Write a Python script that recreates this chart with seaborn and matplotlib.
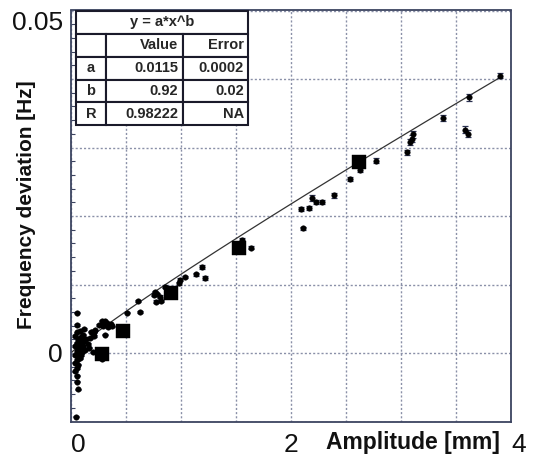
import numpy as np
import pandas as pd
import matplotlib
matplotlib.use('Agg')
import matplotlib.pyplot as plt
import seaborn as sns

# fit parameters shown in the inset table
fit_a = 0.0115
fit_b = 0.92
table_rows = [['', 'Value', 'Error'],
              ['a', '0.0115', '0.0002'],
              ['b', '0.92', '0.02'],
              ['R', '0.98222', 'NA']]

# small dots with error bars
dot_x = [3.90, 3.62, 3.38, 3.58, 3.61, 3.11, 3.10, 3.08, 3.05, 2.77,
         2.63, 2.54, 2.39, 2.19, 2.23, 2.28, 2.16, 2.09, 2.11, 1.55,
         1.64, 1.19, 1.22, 1.14, 1.04, 0.99, 0.98, 0.85, 0.76, 0.78,
         0.81, 0.75, 0.82, 0.77, 0.61, 0.63, 0.51,
         0.31, 0.28, 0.36, 0.37, 0.25, 0.33, 0.29, 0.34, 0.31, 0.22,
         0.20, 0.18, 0.21, 0.17, 0.14, 0.12, 0.15, 0.10, 0.20, 0.28,
         0.13, 0.16, 0.11, 0.19, 0.21,
         0.05, 0.05, 0.05, 0.04, 0.06, 0.05, 0.07, 0.04, 0.06, 0.05,
         0.07, 0.04, 0.06, 0.05, 0.08, 0.04, 0.06, 0.05, 0.04, 0.05,
         0.05, 0.06, 0.045, 0.09, 0.10, 0.09, 0.08, 0.09, 0.11, 0.08,
         0.12]
dot_y = [0.0405, 0.0373, 0.0343, 0.0326, 0.0320, 0.0319, 0.0313, 0.0308, 0.0293, 0.0281,
         0.0267, 0.0254, 0.0230, 0.0226, 0.0220, 0.0220, 0.0212, 0.0210, 0.0182, 0.0165,
         0.0154, 0.0126, 0.0110, 0.0115, 0.0111, 0.0107, 0.0102, 0.0097, 0.0089, 0.0086,
         0.0082, 0.0085, 0.0076, 0.0075, 0.0076, 0.0060, 0.0059,
         0.0046, 0.0047, 0.0042, 0.0039, 0.0041, 0.0044, 0.0040, 0.0038, 0.0027, 0.0033,
         0.0029, 0.0031, 0.0025, 0.0022, 0.0020, 0.0018, 0.0013, 0.0015, 0.0001, -0.0009,
         0.0005, 0.0008, 0.0010, 0.0031, 0.0030,
         0.0059, 0.0041, 0.0030, 0.0025, 0.0020, 0.0015, 0.0012, 0.0010, 0.0006, 0.0003,
         0.0000, -0.0003, -0.0006, -0.0010, -0.0008, -0.0014, -0.0017, -0.0022, -0.0027, -0.0033,
         -0.0042, -0.0053, -0.0093, 0.0008, 0.0002, -0.0003, 0.0017, 0.0024, 0.0027, 0.0032,
         0.0035]
dot_err = [0.0004, 0.0005, 0.0005, 0.0005, 0.0005, 0.0005, 0.0005, 0.0005, 0.0004, 0.0004,
           0.0003, 0.0003, 0.0004, 0.0004, 0.0003, 0.0003, 0.0003, 0.0003, 0.0002, 0.0003,
           0.0002, 0.0003, 0.0003, 0.0002, 0.0002, 0.0002, 0.0002, 0.0002, 0.0002, 0.0002,
           0.0002, 0.0002, 0.0002, 0.0002, 0.0001, 0.0001, 0.0001] + [0.0001] * 56

# large square markers
sq_x = [0.28, 0.47, 0.91, 1.53, 2.62]
sq_y = [-0.0001, 0.0032, 0.0087, 0.0154, 0.0279]

dots = pd.DataFrame({'x': dot_x, 'y': dot_y, 'err': dot_err})
squares = pd.DataFrame({'x': sq_x, 'y': sq_y})
fit_x = np.linspace(0.005, 3.9, 200)
fit = pd.DataFrame({'x': fit_x, 'y': fit_a * fit_x ** fit_b})

sns.set_theme(style='white')
plt.rcParams['font.family'] = ['Liberation Sans', 'DejaVu Sans']

fig = plt.figure(figsize=(5.53, 4.59), dpi=100)
ax = fig.add_axes([71 / 553, 1 - 421.5 / 459, 440 / 553, 411 / 459])

frame_col = '#3c4460'
grid_col = '#8a90a8'

ax.set_xlim(0, 4)
ax.set_ylim(-0.01, 0.05)
xt = np.arange(0, 4.01, 0.5)
yt = np.arange(-0.01, 0.0501, 0.01)
ax.set_xticks(xt)
ax.set_xticklabels(['0' if abs(v) < 1e-9 else ('2' if abs(v - 2) < 1e-9 else ('4' if abs(v - 4) < 1e-9 else '')) for v in xt])
ax.set_yticks(yt)
ax.set_yticklabels(['0' if abs(v) < 1e-9 else ('0.05' if abs(v - 0.05) < 1e-9 else '') for v in yt])
ax.set_yticks(np.arange(-0.01, 0.05, 0.002), minor=True)
ax.tick_params(axis='both', which='major', length=0, labelsize=19, colors='#111111')
ax.tick_params(axis='x', which='major', pad=8)
ax.tick_params(axis='y', which='major', pad=6)
ax.tick_params(axis='y', which='minor', left=True, direction='in', length=3, width=0.8, color=frame_col)
for lbl in ax.get_yticklabels():
    if lbl.get_text() == '0.05':
        lbl.set_verticalalignment('top')
for lbl in ax.get_xticklabels():
    if lbl.get_text() in ('0', '4'):
        lbl.set_horizontalalignment('left')
ax.grid(True, which='major', color=grid_col, linestyle=(0, (1.5, 1.5)), linewidth=1.0)
ax.set_axisbelow(True)
for s in ax.spines.values():
    s.set_color(frame_col)
    s.set_linewidth(1.3)

sns.lineplot(data=fit, x='x', y='y', ax=ax, color='#333333', linewidth=0.9, legend=False)
ax.errorbar(dots['x'], dots['y'], yerr=dots['err'], fmt='none', ecolor='#2a3050',
            elinewidth=0.8, capsize=2.5, capthick=0.9, zorder=3)
sns.scatterplot(data=dots, x='x', y='y', ax=ax, color='black', s=16, marker='o',
                edgecolor='black', linewidth=0.3, zorder=4, legend=False)
sns.scatterplot(data=squares, x='x', y='y', ax=ax, color='black', s=100, marker='s',
                edgecolor='black', linewidth=0.3, zorder=5, legend=False)
ax.set_xlabel('')
ax.set_ylabel('')

# inset fit table
tx0, tx1 = 5 / 440, 177 / 440
head = ax.table(cellText=[['y = a*x^b']], cellLoc='center',
                bbox=[tx0, 0.943, tx1 - tx0, 0.999 - 0.943])
body = ax.table(cellText=table_rows, colWidths=[0.174, 0.448, 0.378],
                bbox=[tx0, 0.721, tx1 - tx0, 0.943 - 0.721])
for tb in (head, body):
    tb.auto_set_font_size(False)
    for (r, c), cell in tb.get_celld().items():
        cell.set_edgecolor('#1a1a2a')
        cell.set_linewidth(1.5)
        cell.set_facecolor('white')
        cell.get_text().set_fontsize(10.5)
        cell.get_text().set_fontweight('bold')
        if tb is body:
            if c == 0:
                cell.get_text().set_horizontalalignment('center')
                cell._loc = 'center'
            else:
                cell.PAD = 0.06
    tb.set_zorder(6)

fig.text(27 / 553, 1 - 205 / 459, 'Frequency deviation [Hz]', rotation=90,
         ha='center', va='center', fontsize=15, fontweight='bold', color='#111111')
fig.text(413 / 553, 1 - 443 / 459, 'Amplitude [mm]', ha='center', va='center',
         fontsize=16.5, fontweight='bold', color='#111111')

plt.savefig('out.png', dpi=100)
